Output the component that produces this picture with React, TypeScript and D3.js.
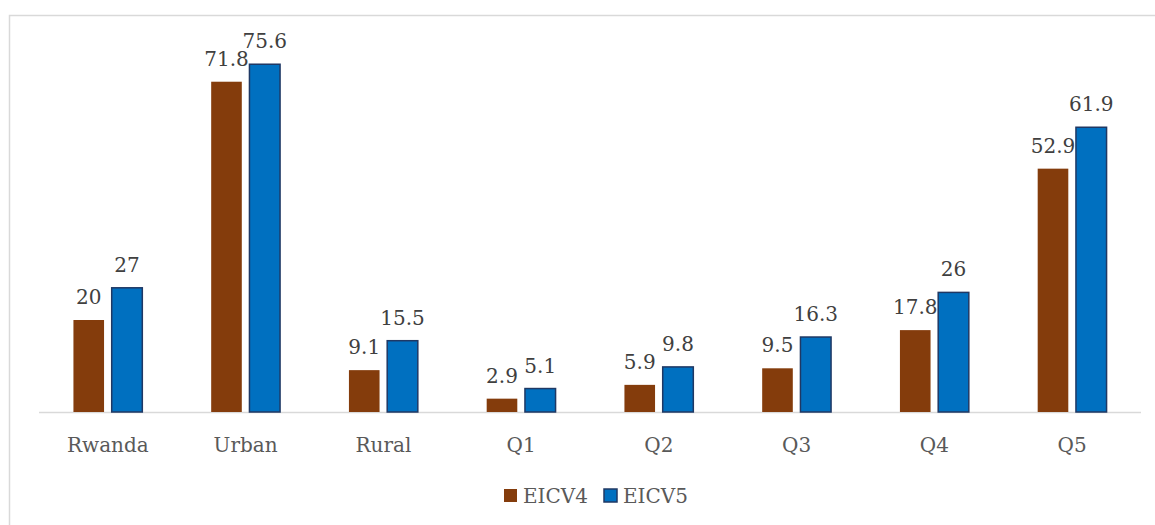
import React, { useEffect, useRef } from 'react';
import * as d3 from 'd3';

const categories = ['Rwanda', 'Urban', 'Rural', 'Q1', 'Q2', 'Q3', 'Q4', 'Q5'];
const seriesNames = ['EICV4', 'EICV5'];
const eicv4 = [20, 71.8, 9.1, 2.9, 5.9, 9.5, 17.8, 52.9];
const eicv5 = [27, 75.6, 15.5, 5.1, 9.8, 16.3, 26, 61.9];

const colors = ['#843C0C', '#0070C0'];
const strokes = ['none', '#1F3864'];

function App() {
  const svgRef = useRef<SVGSVGElement>(null);

  useEffect(() => {
    const width = 1155;
    const height = 525;
    const font = '"DejaVu Serif", serif';
    const textColor = '#595959';

    const svg = d3.select(svgRef.current)
      .attr('width', width)
      .attr('height', height);
    svg.selectAll('*').remove();

    // chart frame (only top and left edges are visible in the crop)
    svg.append('rect')
      .attr('x', 9.5)
      .attr('y', 15.5)
      .attr('width', 2000)
      .attr('height', 1000)
      .attr('fill', 'white')
      .attr('stroke', '#d9d9d9')
      .attr('stroke-width', 1.5);

    const x = d3.scaleBand()
      .domain(categories)
      .range([39, 1141])
      .paddingInner(0.5)
      .paddingOuter(0.25);

    const x1 = d3.scaleBand()
      .domain(seriesNames)
      .range([0, x.bandwidth()])
      .paddingInner(0.2);

    const y = d3.scaleLinear()
      .domain([0, 80])
      .range([412, 44]);

    const data = categories.map((c, i) => ({
      category: c,
      values: [eicv4[i], eicv5[i]],
    }));

    // baseline
    svg.append('line')
      .attr('x1', 39)
      .attr('x2', 1141)
      .attr('y1', y(0) + 0.5)
      .attr('y2', y(0) + 0.5)
      .attr('stroke', '#d9d9d9')
      .attr('stroke-width', 1.5);

    const groups = svg.selectAll('.group')
      .data(data)
      .enter()
      .append('g')
      .attr('class', 'group')
      .attr('transform', (d) => `translate(${x(d.category)},0)`);

    const bars = groups.selectAll('.bar')
      .data((d) => d.values.map((v, j) => ({ v, j })))
      .enter()
      .append('g')
      .attr('class', 'bar');

    bars.append('rect')
      .attr('x', (d) => x1(seriesNames[d.j])!)
      .attr('y', (d) => y(d.v))
      .attr('width', x1.bandwidth())
      .attr('height', (d) => y(0) - y(d.v))
      .attr('fill', (d) => colors[d.j])
      .attr('stroke', (d) => strokes[d.j])
      .attr('stroke-width', 1.5);

    bars.append('text')
      .attr('x', (d) => x1(seriesNames[d.j])! + x1.bandwidth() / 2)
      .attr('y', (d) => y(d.v) - 16)
      .attr('text-anchor', 'middle')
      .style('font-family', font)
      .style('font-size', '20px')
      .style('fill', '#404040')
      .text((d) => String(d.v));

    // category labels
    svg.selectAll('.cat')
      .data(categories)
      .enter()
      .append('text')
      .attr('class', 'cat')
      .attr('x', (d) => x(d)! + x.bandwidth() / 2)
      .attr('y', 452)
      .attr('text-anchor', 'middle')
      .style('font-family', font)
      .style('font-size', '20px')
      .style('fill', textColor)
      .text((d) => d);

    // legend
    const legendX = [504, 604];
    const legend = svg.selectAll('.legend')
      .data(seriesNames)
      .enter()
      .append('g')
      .attr('class', 'legend')
      .attr('transform', (d, i) => `translate(${legendX[i]}, 489)`);

    legend.append('rect')
      .attr('width', 13)
      .attr('height', 13)
      .attr('fill', (d, i) => colors[i])
      .attr('stroke', (d, i) => strokes[i])
      .attr('stroke-width', 1.5);

    legend.append('text')
      .attr('x', 19)
      .attr('y', 14)
      .style('font-family', font)
      .style('font-size', '20px')
      .style('fill', textColor)
      .text((d) => d);
  }, []);

  return (
    <svg ref={svgRef} style={{ position: 'absolute', left: 0, top: 0, display: 'block' }}></svg>
  );
}

export default App;
